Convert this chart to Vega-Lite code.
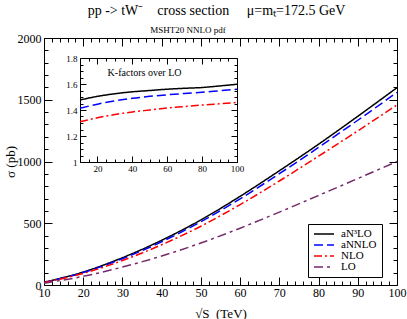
{
  "$schema": "https://vega.github.io/schema/vega-lite/v6.json",
  "width": 353,
  "height": 247,
  "autosize": "none",
  "padding": {"left": 44, "top": 38, "right": 10, "bottom": 34},
  "background": "white",
  "title": {"text": "pp -> tW⁻\u00a0\u00a0\u00a0\u00a0cross section\u00a0\u00a0\u00a0\u00a0\u00a0μ=mₜ=172.5 GeV", "font": "Liberation Serif", "fontSize": 14, "fontWeight": "normal", "anchor": "middle", "frame": "group", "dx": -4, "offset": 8, "color": "black"},
  "config": {
    "view": {"stroke": null},
    "axis": {"domainColor": "black", "tickColor": "black", "labelColor": "black", "titleColor": "black", "labelFont": "Liberation Serif", "titleFont": "Liberation Serif", "titleFontWeight": "normal", "grid": false, "labelOverlap": false, "labelFlush": false, "labelBound": false, "domainWidth": 1, "tickWidth": 1}
  },
  "datasets": {
    "main": [
      {"s": 10, "series": "aN³LO", "sigma": 22}, {"s": 20, "series": "aN³LO", "sigma": 105}, {"s": 30, "series": "aN³LO", "sigma": 221}, {"s": 40, "series": "aN³LO", "sigma": 362}, {"s": 50, "series": "aN³LO", "sigma": 527}, {"s": 60, "series": "aN³LO", "sigma": 718}, {"s": 70, "series": "aN³LO", "sigma": 925}, {"s": 80, "series": "aN³LO", "sigma": 1140}, {"s": 90, "series": "aN³LO", "sigma": 1366}, {"s": 100, "series": "aN³LO", "sigma": 1598},
      {"s": 10, "series": "aNNLO", "sigma": 21}, {"s": 20, "series": "aNNLO", "sigma": 101}, {"s": 30, "series": "aNNLO", "sigma": 213}, {"s": 40, "series": "aNNLO", "sigma": 350}, {"s": 50, "series": "aNNLO", "sigma": 512}, {"s": 60, "series": "aNNLO", "sigma": 698}, {"s": 70, "series": "aNNLO", "sigma": 901}, {"s": 80, "series": "aNNLO", "sigma": 1114}, {"s": 90, "series": "aNNLO", "sigma": 1334}, {"s": 100, "series": "aNNLO", "sigma": 1560},
      {"s": 10, "series": "NLO", "sigma": 20}, {"s": 20, "series": "NLO", "sigma": 94}, {"s": 30, "series": "NLO", "sigma": 198}, {"s": 40, "series": "NLO", "sigma": 326}, {"s": 50, "series": "NLO", "sigma": 476}, {"s": 60, "series": "NLO", "sigma": 651}, {"s": 70, "series": "NLO", "sigma": 842}, {"s": 80, "series": "NLO", "sigma": 1043}, {"s": 90, "series": "NLO", "sigma": 1248}, {"s": 100, "series": "NLO", "sigma": 1458},
      {"s": 10, "series": "LO", "sigma": 15}, {"s": 20, "series": "LO", "sigma": 70}, {"s": 30, "series": "LO", "sigma": 145}, {"s": 40, "series": "LO", "sigma": 235}, {"s": 50, "series": "LO", "sigma": 340}, {"s": 60, "series": "LO", "sigma": 460}, {"s": 70, "series": "LO", "sigma": 590}, {"s": 80, "series": "LO", "sigma": 725}, {"s": 90, "series": "LO", "sigma": 862}, {"s": 100, "series": "LO", "sigma": 1000}
    ],
    "kfac": [
      {"s": 10, "series": "aN³LO", "k": 1.477}, {"s": 20, "series": "aN³LO", "k": 1.505}, {"s": 30, "series": "aN³LO", "k": 1.525}, {"s": 40, "series": "aN³LO", "k": 1.54}, {"s": 50, "series": "aN³LO", "k": 1.55}, {"s": 60, "series": "aN³LO", "k": 1.56}, {"s": 70, "series": "aN³LO", "k": 1.567}, {"s": 80, "series": "aN³LO", "k": 1.573}, {"s": 90, "series": "aN³LO", "k": 1.585}, {"s": 100, "series": "aN³LO", "k": 1.598},
      {"s": 10, "series": "aNNLO", "k": 1.413}, {"s": 20, "series": "aNNLO", "k": 1.445}, {"s": 30, "series": "aNNLO", "k": 1.47}, {"s": 40, "series": "aNNLO", "k": 1.49}, {"s": 50, "series": "aNNLO", "k": 1.505}, {"s": 60, "series": "aNNLO", "k": 1.517}, {"s": 70, "series": "aNNLO", "k": 1.527}, {"s": 80, "series": "aNNLO", "k": 1.536}, {"s": 90, "series": "aNNLO", "k": 1.548}, {"s": 100, "series": "aNNLO", "k": 1.56},
      {"s": 10, "series": "NLO", "k": 1.31}, {"s": 20, "series": "NLO", "k": 1.34}, {"s": 30, "series": "NLO", "k": 1.365}, {"s": 40, "series": "NLO", "k": 1.385}, {"s": 50, "series": "NLO", "k": 1.4}, {"s": 60, "series": "NLO", "k": 1.415}, {"s": 70, "series": "NLO", "k": 1.427}, {"s": 80, "series": "NLO", "k": 1.438}, {"s": 90, "series": "NLO", "k": 1.448}, {"s": 100, "series": "NLO", "k": 1.458}
    ]
  },
  "layer": [
    {
      "data": {"name": "main"},
      "mark": {"type": "line", "strokeWidth": 1.5, "interpolate": "monotone"},
      "encoding": {
        "x": {"field": "s", "type": "quantitative", "scale": {"domain": [10, 100], "nice": false, "zero": false},
          "axis": {"orient": "bottom", "values": [10,12,14,16,18,20,22,24,26,28,30,32,34,36,38,40,42,44,46,48,50,52,54,56,58,60,62,64,66,68,70,72,74,76,78,80,82,84,86,88,90,92,94,96,98,100],
            "labelExpr": "datum.value % 10 === 0 ? datum.label : ''", "labelFontSize": 12, "labelPadding": 10,
            "tickSize": {"condition": {"test": "datum.value % 10 === 0", "value": -8}, "value": -4},
            "title": "√S\u00a0\u00a0(TeV)", "titleFontSize": 13, "titlePadding": 5}},
        "y": {"field": "sigma", "type": "quantitative", "scale": {"domain": [0, 2000], "nice": false},
          "axis": {"orient": "left", "values": [0,100,200,300,400,500,600,700,800,900,1000,1100,1200,1300,1400,1500,1600,1700,1800,1900,2000],
            "labelExpr": "datum.value % 500 === 0 ? datum.label : ''", "format": "d", "labelFontSize": 12, "labelPadding": 11,
            "tickSize": {"condition": {"test": "datum.value % 500 === 0", "value": -8}, "value": -4},
            "title": "σ (pb)", "titleFontSize": 13, "titlePadding": 0}},
        "color": {"field": "series", "type": "nominal", "scale": {"domain": ["aN³LO", "aNNLO", "NLO", "LO"], "range": ["black", "#0000ff", "#ff0000", "#742a6a"]},
          "legend": {"title": null, "orient": "none", "legendX": 264, "legendY": 186, "strokeColor": "black", "fillColor": "white", "padding": 5, "labelFont": "Liberation Serif", "labelFontSize": 11, "labelColor": "black", "symbolType": "stroke", "symbolSize": 400, "symbolStrokeWidth": 1.5, "rowPadding": 0, "clipHeight": 10, "labelOffset": 6}},
        "strokeDash": {"field": "series", "type": "nominal", "scale": {"domain": ["aN³LO", "aNNLO", "NLO", "LO"], "range": [[1, 0], [9, 4], [8, 3, 2, 3], [9, 4, 3, 4]]},
          "legend": {"title": null, "orient": "none", "legendX": 264, "legendY": 186}}
      }
    },
    {
      "data": {"name": "main"},
      "mark": {"type": "point", "opacity": 0},
      "encoding": {
        "x": {"field": "s", "type": "quantitative", "scale": {"domain": [10, 100], "nice": false, "zero": false},
          "axis": {"orient": "top", "values": [10,12,14,16,18,20,22,24,26,28,30,32,34,36,38,40,42,44,46,48,50,52,54,56,58,60,62,64,66,68,70,72,74,76,78,80,82,84,86,88,90,92,94,96,98,100],
            "labels": false, "title": null,
            "tickSize": {"condition": {"test": "datum.value % 10 === 0", "value": -8}, "value": -4}}},
        "y": {"field": "sigma", "type": "quantitative", "scale": {"domain": [0, 2000], "nice": false},
          "axis": {"orient": "right", "values": [0,100,200,300,400,500,600,700,800,900,1000,1100,1200,1300,1400,1500,1600,1700,1800,1900,2000],
            "labels": false, "title": null,
            "tickSize": {"condition": {"test": "datum.value % 500 === 0", "value": -8}, "value": -4}}}
      }
    },
    {
      "data": {"name": "kfac"},
      "mark": {"type": "line", "strokeWidth": 1.5, "interpolate": "monotone"},
      "encoding": {
        "x": {"field": "s", "type": "quantitative", "scale": {"domain": [10, 100], "range": [36, 193], "nice": false, "zero": false},
          "axis": {"orient": "bottom", "offset": -123, "values": [10,15,20,25,30,35,40,45,50,55,60,65,70,75,80,85,90,95,100],
            "labelExpr": "datum.value % 20 === 0 ? datum.label : ''", "labelFontSize": 9, "labelPadding": 8,
            "tickSize": {"condition": {"test": "datum.value % 20 === 0", "value": -6}, "value": -3}, "title": null}},
        "y": {"field": "k", "type": "quantitative", "scale": {"domain": [1, 1.8], "range": [124, 20], "nice": false, "zero": false},
          "axis": {"orient": "left", "offset": -36, "values": [1,1.05,1.1,1.15,1.2,1.25,1.3,1.35,1.4,1.45,1.5,1.55,1.6,1.65,1.7,1.75,1.8],
            "labelExpr": "abs(datum.value*5 - round(datum.value*5)) < 0.001 ? format(datum.value, '.1~f') : ''", "labelFontSize": 9, "labelPadding": 9,
            "tickSize": {"condition": {"test": "abs(datum.value*5 - round(datum.value*5)) < 0.001", "value": -6}, "value": -3}, "title": null}},
        "color": {"field": "series", "type": "nominal", "legend": null},
        "strokeDash": {"field": "series", "type": "nominal", "legend": null}
      }
    },
    {
      "data": {"name": "kfac"},
      "mark": {"type": "point", "opacity": 0},
      "encoding": {
        "x": {"field": "s", "type": "quantitative", "scale": {"domain": [10, 100], "range": [36, 193], "nice": false, "zero": false},
          "axis": {"orient": "top", "offset": -20, "values": [10,15,20,25,30,35,40,45,50,55,60,65,70,75,80,85,90,95,100],
            "labels": false, "title": null,
            "tickSize": {"condition": {"test": "datum.value % 20 === 0", "value": -6}, "value": -3}}},
        "y": {"field": "k", "type": "quantitative", "scale": {"domain": [1, 1.8], "range": [124, 20], "nice": false, "zero": false},
          "axis": {"orient": "right", "offset": -160, "values": [1,1.05,1.1,1.15,1.2,1.25,1.3,1.35,1.4,1.45,1.5,1.55,1.6,1.65,1.7,1.75,1.8],
            "labels": false, "title": null,
            "tickSize": {"condition": {"test": "abs(datum.value*5 - round(datum.value*5)) < 0.001", "value": -6}, "value": -3}}}
      }
    },
    {
      "data": {"values": [{}]},
      "mark": {"type": "text", "text": "K-factors over LO", "font": "Liberation Serif", "fontSize": 10, "color": "black", "align": "center", "baseline": "middle"},
      "encoding": {
        "x": {"datum": 47, "type": "quantitative", "scale": {"domain": [10, 100], "range": [36, 193], "nice": false, "zero": false}, "axis": null},
        "y": {"datum": 1.685, "type": "quantitative", "scale": {"domain": [1, 1.8], "range": [124, 20], "nice": false, "zero": false}, "axis": null}
      }
    },
    {
      "data": {"values": [{}]},
      "mark": {"type": "text", "text": "MSHT20 NNLO pdf", "font": "Liberation Serif", "fontSize": 9, "color": "black", "align": "center", "baseline": "middle"},
      "encoding": {
        "x": {"datum": 46.7, "type": "quantitative", "scale": {"domain": [10, 100], "nice": false, "zero": false}, "axis": null},
        "y": {"datum": 2065, "type": "quantitative", "scale": {"domain": [0, 2000], "nice": false}, "axis": null}
      }
    }
  ],
  "resolve": {"scale": {"x": "independent", "y": "independent"}, "axis": {"x": "independent", "y": "independent"}}
}
